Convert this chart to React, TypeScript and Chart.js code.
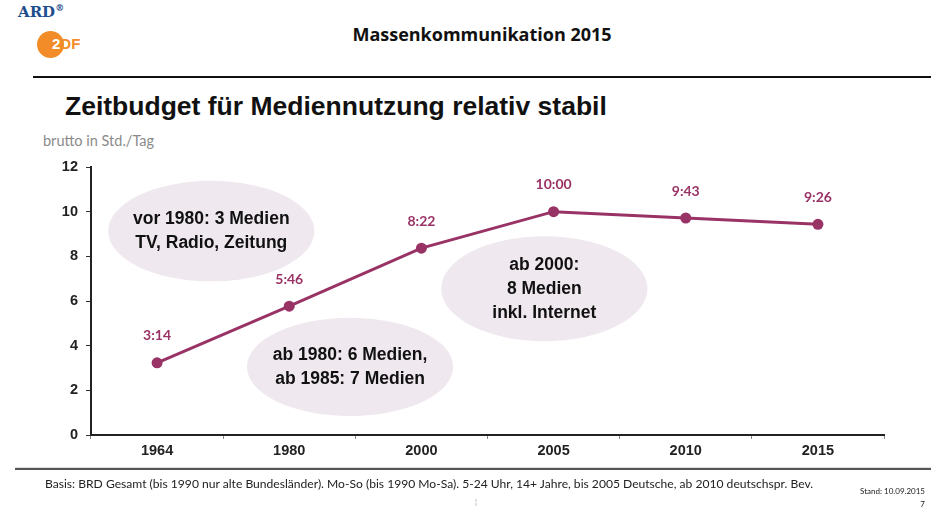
import React, { useEffect, useRef } from "react";
import { Chart, registerables } from "chart.js";
Chart.register(...registerables);

const years = ["1964", "1980", "2000", "2005", "2010", "2015"];
const hoursPerDay = [3 + 14 / 60, 5 + 46 / 60, 8 + 22 / 60, 10, 9 + 43 / 60, 9 + 26 / 60];
const valueLabels = ["3:14", "5:46", "8:22", "10:00", "9:43", "9:26"];
const yTicks = [0, 2, 4, 6, 8, 10, 12];

// annotation bubbles: centre in data space (category index, value), radii in data units
const bubbleLines = [
  ["vor 1980: 3 Medien", "TV, Radio, Zeitung"],
  ["ab 2000:", "8 Medien", "inkl. Internet"],
  ["ab 1980: 6 Medien,", "ab 1985: 7 Medien"],
];
const bubbleX = [0.41, 2.93, 1.46];
const bubbleY = [9.13, 6.55, 3.05];
const bubbleRx = [0.78, 0.78, 0.78];
const bubbleRy = [2.25, 2.35, 2.2];

const PURPLE = "#993366";

const overlayPlugin = {
  id: "overlay",
  beforeDatasetsDraw(chart: any) {
    const ctx = chart.ctx;
    const xs = chart.scales.x;
    const ys = chart.scales.y;
    const pxPerCat = xs.getPixelForValue(1) - xs.getPixelForValue(0);
    const pxPerUnit = ys.getPixelForValue(0) - ys.getPixelForValue(1);
    ctx.save();
    for (let i = 0; i < bubbleLines.length; i++) {
      const cx = xs.getPixelForValue(bubbleX[i]);
      const cy = ys.getPixelForValue(bubbleY[i]);
      ctx.beginPath();
      ctx.ellipse(cx, cy, bubbleRx[i] * pxPerCat, bubbleRy[i] * pxPerUnit, 0, 0, Math.PI * 2);
      ctx.fillStyle = "#EFE8EE";
      ctx.fill();
      ctx.fillStyle = "#111";
      ctx.font = "bold 17.5px 'Liberation Sans', Arial, sans-serif";
      ctx.textAlign = "center";
      ctx.textBaseline = "middle";
      const lines = bubbleLines[i];
      const lh = 24;
      const start = cy - ((lines.length - 1) * lh) / 2;
      lines.forEach((t, k) => ctx.fillText(t, cx, start + k * lh));
    }
    ctx.restore();
  },
  afterDatasetsDraw(chart: any) {
    const ctx = chart.ctx;
    const meta = chart.getDatasetMeta(0);
    ctx.save();
    ctx.fillStyle = PURPLE;
    ctx.font = "bold 14px Lato, 'Open Sans', sans-serif";
    ctx.textAlign = "center";
    ctx.textBaseline = "middle";
    meta.data.forEach((pt: any, i: number) => {
      ctx.fillText(valueLabels[i], pt.x, pt.y - 27);
    });
    ctx.restore();
  },
};

export default function App() {
  const ref = useRef<HTMLCanvasElement>(null);
  useEffect(() => {
    document.body.style.margin = "0";
    const chart = new Chart(ref.current!, {
      type: "line",
      data: {
        labels: years,
        datasets: [
          {
            data: hoursPerDay,
            borderColor: PURPLE,
            backgroundColor: PURPLE,
            borderWidth: 3,
            pointRadius: 5.5,
            pointHoverRadius: 5.5,
            pointBackgroundColor: PURPLE,
            pointBorderWidth: 0,
            tension: 0,
          },
        ],
      },
      plugins: [overlayPlugin],
      options: {
        animation: false,
        responsive: false,
        maintainAspectRatio: false,
        layout: { padding: { left: 41, right: 47, top: 37, bottom: 45 } },
        plugins: { legend: { display: false }, tooltip: { enabled: false } },
        scales: {
          x: {
            type: "category",
            offset: true,
            grid: {
              offset: true,
              drawOnChartArea: false,
              drawTicks: true,
              tickLength: 4,
              color: "#888",
            },
            border: { color: "#222", width: 2 },
            ticks: {
              color: "#222",
              padding: 3,
              font: { family: "'Liberation Sans', Arial, sans-serif", size: 14.5, weight: "bold" },
            },
            afterFit: (s: any) => {
              s.height = 30;
            },
          },
          y: {
            min: 0,
            max: 12,
            afterBuildTicks: (s: any) => {
              s.ticks = yTicks.map((v) => ({ value: v }));
            },
            grid: { drawOnChartArea: false, drawTicks: true, tickLength: 5, color: "#333" },
            border: { color: "#222", width: 2 },
            ticks: {
              color: "#222",
              padding: 8,
              font: { family: "'Liberation Sans', Arial, sans-serif", size: 14.5, weight: "bold" },
            },
            afterFit: (s: any) => {
              s.width = 50;
            },
          },
        },
      },
    });
    return () => chart.destroy();
  }, []);

  return (
    <div style={{ position: "absolute", left: 0, top: 0, width: 931, height: 510, overflow: "hidden", background: "#fff" }}>
      {/* logos */}
      <div style={{ position: "absolute", left: 18, top: 3, fontFamily: "'DejaVu Serif', serif", fontWeight: "bold", fontSize: 15, color: "#1f4e8c" }}>
        ARD<sup style={{ fontSize: 9 }}>®</sup>
      </div>
      <div style={{ position: "absolute", left: 37, top: 31, width: 27, height: 27, borderRadius: "50%", background: "#f28c28" }} />
      <div style={{ position: "absolute", left: 52, top: 35, fontFamily: "'Liberation Sans', Arial, sans-serif", fontWeight: "bold", fontSize: 15 }}>
        <span style={{ color: "#fff" }}>2</span><span style={{ color: "#f28c28" }}>DF</span>
      </div>
      <div style={{ position: "absolute", left: 0, width: 964, top: 22, textAlign: "center", fontFamily: "'Open Sans', sans-serif", fontWeight: "bold", fontSize: 18, color: "#111" }}>
        Massenkommunikation 2015
      </div>
      <div style={{ position: "absolute", left: 33, right: 0, top: 76, height: 2, background: "#111" }} />
      <div style={{ position: "absolute", left: 65, top: 91, fontFamily: "'Liberation Sans', Arial, sans-serif", fontWeight: "bold", fontSize: 26.5, color: "#111", whiteSpace: "nowrap" }}>
        Zeitbudget für Mediennutzung relativ stabil
      </div>
      <div style={{ position: "absolute", left: 43, top: 132, fontFamily: "Lato, sans-serif", fontSize: 14.5, color: "#8a8a8a" }}>
        brutto in Std./Tag
      </div>
      <canvas ref={ref} width={931} height={380} style={{ position: "absolute", left: 0, top: 130, width: 931, height: 380 }} />
      <div style={{ position: "absolute", left: 15, right: 0, top: 467, height: 1, background: "#ddd" }} />
      <div style={{ position: "absolute", left: 15, right: 0, top: 468, height: 2, background: "#555" }} />
      <div style={{ position: "absolute", left: 45, top: 476, fontFamily: "Lato, sans-serif", fontSize: 12.1, color: "#222", whiteSpace: "nowrap" }}>
        Basis: BRD Gesamt (bis 1990 nur alte Bundesländer). Mo-So (bis 1990 Mo-Sa). 5-24 Uhr, 14+ Jahre, bis 2005 Deutsche, ab 2010 deutschspr. Bev.
      </div>
      <div style={{ position: "absolute", right: 6, top: 485, fontFamily: "Lato, sans-serif", fontSize: 8, color: "#222", textAlign: "right", lineHeight: "13px" }}>
        Stand: 10.09.2015<br />7
      </div>
      <div style={{ position: "absolute", left: 475, top: 497, fontFamily: "Lato, sans-serif", fontSize: 8, color: "#999" }}>¦</div>
    </div>
  );
}
